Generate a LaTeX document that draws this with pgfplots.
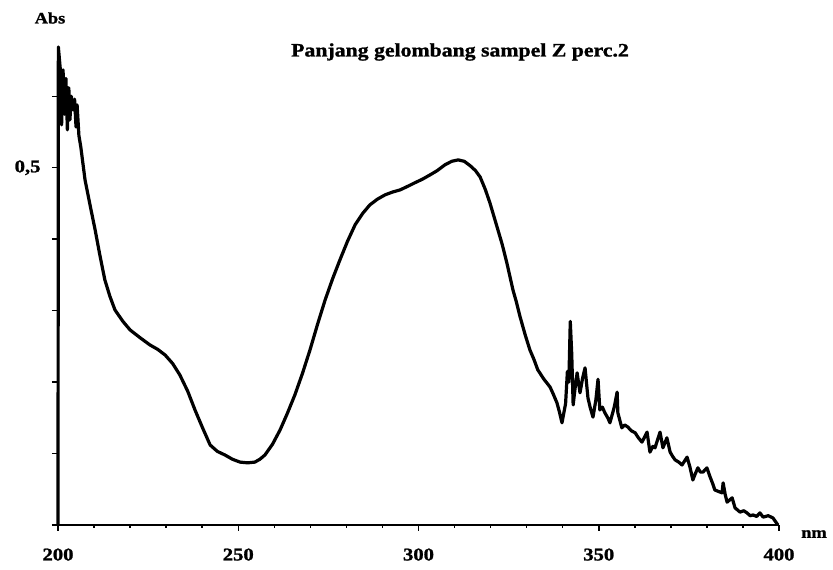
\documentclass[border=0pt]{standalone}
\usepackage{fontspec}
\setmainfont{Liberation Serif}[FakeStretch=1.15, BoldFeatures={FakeBold=1.3}]
\usepackage{pgfplots}
\pgfplotsset{compat=1.18}
\pgfplotstableread{
x y
200.0 0.0
200.1 0.669
200.6 0.640
201.0 0.560
201.4 0.637
201.8 0.575
202.2 0.625
202.6 0.553
203.0 0.612
203.3 0.567
203.7 0.600
204.2 0.581
204.6 0.596
205.0 0.557
205.3 0.588
205.8 0.545
206.3 0.530
207.5 0.483
208.8 0.450
210.3 0.413
211.6 0.378
213.0 0.343
214.4 0.320
215.8 0.301
218.0 0.285
220.0 0.273
222.8 0.262
225.5 0.252
227.6 0.246
229.7 0.238
231.8 0.226
233.8 0.210
236.0 0.187
238.0 0.161
240.1 0.136
242.2 0.112
244.2 0.103
246.3 0.098
248.4 0.092
250.5 0.088
252.6 0.087
254.6 0.088
256.0 0.092
257.4 0.098
259.5 0.113
261.6 0.133
263.6 0.156
265.7 0.182
267.8 0.212
269.9 0.245
272.0 0.281
274.1 0.315
276.2 0.345
278.2 0.371
280.3 0.397
282.4 0.420
284.5 0.436
286.5 0.448
288.6 0.456
290.7 0.462
292.8 0.466
294.9 0.469
297.0 0.474
299.0 0.479
301.1 0.484
303.2 0.490
305.2 0.496
307.3 0.504
309.2 0.509
311.0 0.511
312.7 0.509
314.3 0.503
315.8 0.496
317.1 0.487
318.5 0.470
319.8 0.451
321.8 0.417
323.2 0.393
324.5 0.367
326.2 0.329
327.1 0.313
328.2 0.291
329.6 0.266
330.9 0.245
332.0 0.232
333.1 0.217
334.8 0.204
336.5 0.193
337.4 0.183
338.4 0.171
339.1 0.158
339.8 0.143
340.8 0.170
341.3 0.215
341.7 0.200
342.1 0.285
342.5 0.240
342.9 0.168
343.4 0.190
344.0 0.213
344.8 0.185
345.5 0.205
346.2 0.220
347.0 0.178
347.6 0.165
348.4 0.151
349.2 0.175
349.8 0.204
350.3 0.161
351.0 0.165
351.7 0.157
352.5 0.150
353.1 0.143
354.3 0.165
355.1 0.186
355.3 0.157
356.4 0.136
357.2 0.140
358.1 0.137
359.0 0.132
360.1 0.129
361.0 0.122
362.0 0.116
362.8 0.124
363.4 0.130
364.2 0.102
365.0 0.110
365.6 0.108
367.0 0.130
367.8 0.108
368.9 0.122
369.8 0.102
370.5 0.096
371.2 0.091
372.2 0.088
373.1 0.084
374.5 0.095
375.3 0.081
376.1 0.063
376.8 0.072
377.5 0.080
378.2 0.074
378.9 0.074
380.0 0.080
380.9 0.067
381.6 0.058
382.2 0.049
383.2 0.047
384.2 0.045
384.5 0.059
385.1 0.042
385.6 0.032
387.0 0.038
387.8 0.024
389.2 0.018
390.2 0.020
391.1 0.017
392.0 0.013
392.8 0.014
393.8 0.012
394.7 0.017
395.6 0.011
397.0 0.013
398.3 0.010
399.7 0.000
}\spectrum
\begin{document}
\begin{tikzpicture}
\path[use as bounding box] (0,0) rectangle (833bp,570bp);
\begin{axis}[
  at={(58bp,45bp)}, anchor=south west,
  scale only axis, width=721bp, height=478bp,
  xmin=200, xmax=400, ymin=0, ymax=0.669,
  axis lines=left, axis line style={-, line width=2.2bp},
  xtick={200,250,300,350,400}, minor xtick={210,220,230,240,260,270,280,290,310,320,330,340,360,370,380,390},
  ytick={0,0.1,0.2,0.3,0.4,0.5,0.6},
  yticklabels={{},{},{},{},{},{0,5},{}},
  tick align=outside, major tick length=6bp, minor tick length=3bp,
  every tick/.style={black, line width=1.5bp},
  /pgf/number format/assume math mode=true,
  ticklabel style={font=\fontsize{18}{20}\selectfont\bfseries},
  xticklabel style={yshift=-14bp},
  yticklabel style={xshift=-8bp},
  clip=false,
]
\addplot[black, line width=3.2bp, line join=round] table[x=x,y=y] {\spectrum};
\end{axis}
\node[font=\fontsize{19}{21}\selectfont\bfseries] at (460bp,518bp) {Panjang gelombang sampel Z perc.2};
\node[font=\fontsize{16}{18}\selectfont\bfseries] at (50bp,552bp) {Abs};
\node[font=\fontsize{16}{18}\selectfont\bfseries] at (814bp,36bp) {nm};
\end{tikzpicture}
\end{document}
